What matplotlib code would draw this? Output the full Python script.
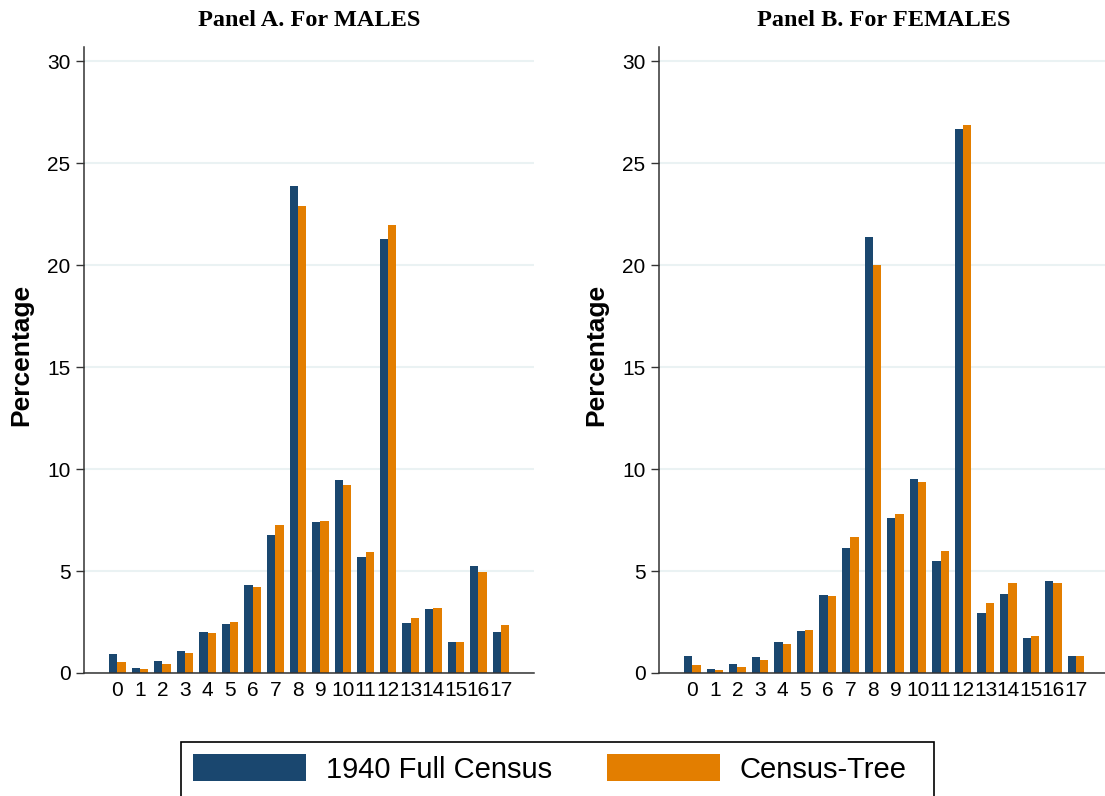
import numpy as np
import matplotlib
matplotlib.use("Agg")
import matplotlib.pyplot as plt
from matplotlib.patches import Patch, Rectangle

# Years of schooling (highest grade completed)
grades = list(range(18))
grade_labels = [str(g) for g in grades]

# Share of individuals at each schooling level (%)
males_census = [0.93, 0.23, 0.58, 1.08, 2.00, 2.39, 4.31, 6.76, 23.87, 7.40,
                9.45, 5.69, 21.27, 2.45, 3.14, 1.52, 5.24, 2.01]
males_tree = [0.54, 0.18, 0.44, 0.98, 1.96, 2.49, 4.21, 7.25, 22.89, 7.45,
              9.22, 5.93, 21.96, 2.69, 3.19, 1.52, 4.95, 2.35]
females_census = [0.83, 0.20, 0.44, 0.78, 1.52, 2.06, 3.82, 6.13, 21.37, 7.60,
                  9.50, 5.49, 26.67, 2.94, 3.87, 1.72, 4.51, 0.83]
females_tree = [0.39, 0.15, 0.29, 0.64, 1.42, 2.11, 3.77, 6.67, 20.00, 7.80,
                9.35, 5.98, 26.86, 3.43, 4.41, 1.81, 4.41, 0.83]

series_names = ["1940 Full Census", "Census-Tree"]
panel_titles = ["Panel A. For MALES", "Panel B. For FEMALES"]
y_ticks = [0, 5, 10, 15, 20, 25, 30]

BLUE = "#1a476f"
ORANGE = "#e37e00"
GRID = "#eaf2f3"

plt.rcParams["font.family"] = ["Liberation Sans", "DejaVu Sans"]

W, H = 1105, 796
fig = plt.figure(figsize=(W / 100, H / 100), dpi=100)

def px_axes(left, right, top, bottom):
    return fig.add_axes([left / W, 1 - bottom / H, (right - left) / W, (bottom - top) / H])

ax_a = px_axes(84.3, 534, 47, 673)
ax_b = px_axes(659.3, 1109, 47, 673)

x = np.arange(len(grades))
bw = 0.368

for ax, title, census, tree in [(ax_a, panel_titles[0], males_census, males_tree),
                                (ax_b, panel_titles[1], females_census, females_tree)]:
    ax.set_axisbelow(True)
    ax.yaxis.grid(True, color=GRID, linewidth=1.5)
    ax.bar(x - bw / 2, census, width=bw, color=BLUE, linewidth=0)
    ax.bar(x + bw / 2, tree, width=bw, color=ORANGE, linewidth=0)
    ax.set_xlim(-1.46, 18.46)
    ax.set_ylim(0, 30.7)
    ax.set_yticks(y_ticks)
    ax.set_yticklabels([str(t) for t in y_ticks])
    ax.set_xticks(x)
    ax.set_xticklabels(grade_labels)
    ax.tick_params(axis="y", length=6, width=1.0, pad=4, labelsize=15, color="#333333")
    ax.tick_params(axis="x", length=0, pad=6, labelsize=15)
    for s in ("top", "right"):
        ax.spines[s].set_visible(False)
    for s in ("left", "bottom"):
        ax.spines[s].set_color("#333333")
        ax.spines[s].set_linewidth(1.1)
    ax.set_ylabel("Percentage", fontsize=19, fontweight="bold")
    ax.yaxis.set_label_coords(-0.114, 0.508)
    ax.set_title(title, fontsize=17.5, fontweight="bold", pad=15,
                 family=["Liberation Serif", "DejaVu Serif"])

handles = [Patch(facecolor=BLUE, edgecolor="none"), Patch(facecolor=ORANGE, edgecolor="none")]
leg = fig.legend(handles, series_names, loc="upper left",
                 bbox_to_anchor=(181 / W, 1 - 742 / H), ncol=2, fontsize=21,
                 frameon=False,
                 handlelength=3.87, handleheight=1.03, handletextpad=0.68,
                 columnspacing=1.88, borderpad=0.42, borderaxespad=0)

# Legend border running off the bottom edge of the figure
fig.add_artist(Rectangle((181 / W, -10 / H), (934 - 181) / W, (796 - 742 + 10) / H,
                         transform=fig.transFigure, fill=False,
                         edgecolor="black", linewidth=1.2))

fig.savefig("out.png", dpi=100)
